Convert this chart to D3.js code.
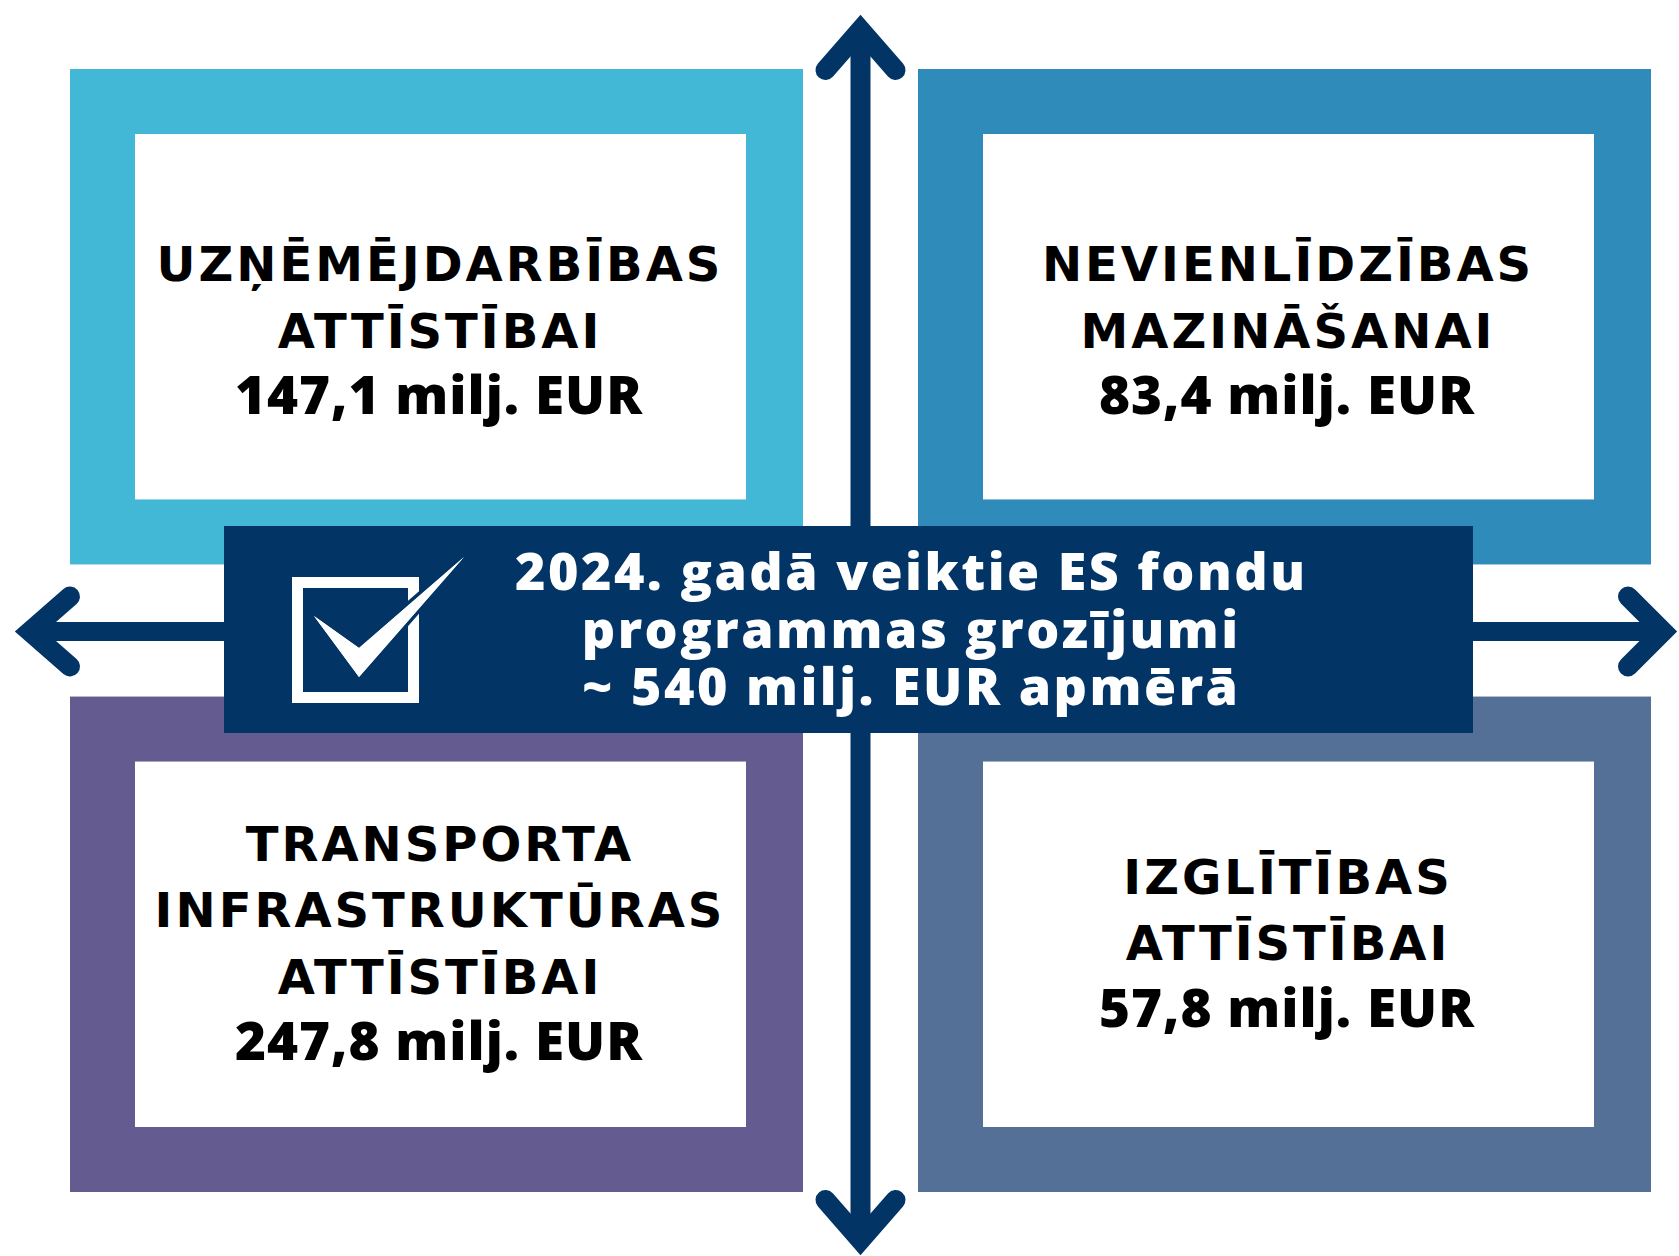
<!DOCTYPE html>
<html>
<head>
<meta charset="utf-8">
<script src="https://cdnjs.cloudflare.com/ajax/libs/d3/7.8.5/d3.min.js"></script>
<style>
    html, body { margin: 0; padding: 0; background: #fff; }
    svg { display: block; }
</style>
</head>
<body>
<script>
const WIDTH = 1679, HEIGHT = 1256;

// chart data
const areaTitles = [
    ["UZŅĒMĒJDARBĪBAS", "ATTĪSTĪBAI"],
    ["NEVIENLĪDZĪBAS", "MAZINĀŠANAI"],
    ["TRANSPORTA", "INFRASTRUKTŪRAS", "ATTĪSTĪBAI"],
    ["IZGLĪTĪBAS", "ATTĪSTĪBAI"]
];
const areaValues = [147.1, 83.4, 247.8, 57.8];
const valueUnit = "milj. EUR";
const bannerLines = ["2024. gadā veiktie ES fondu", "programmas grozījumi", "~ 540 milj. EUR apmērā"];

const areaColors = ["#42b7d6", "#2e8bba", "#645b91", "#547097"];
const NAVY = "#033466";

const lvFormat = d3.formatLocale({decimal: ",", thousands: " ", grouping: [3], currency: ["", ""]}).format(".1f");

var svg = d3.select("body").append("svg")
    .attr("width", WIDTH)
    .attr("height", HEIGHT);

var x = d3.scaleBand().domain([0, 1]).range([70, 1651]).paddingInner(115 / 848);
var y = d3.scaleBand().domain([0, 1]).range([69, 1192]).paddingInner(132 / 627);
const INSET = 65, INSET_RIGHT = 57;
const LINE_H = 66.5;
const rowShift = [31, 16];

var cx = (x(0) + x.bandwidth() + x(1)) / 2;
var cy = (y(0) + y.bandwidth() + y(1)) / 2 + 1;

var areas = areaTitles.map(function(t, i) {
    return {title: t, value: areaValues[i], color: areaColors[i], col: i % 2, row: Math.floor(i / 2)};
});

var quad = svg.selectAll(".area")
    .data(areas)
    .enter().append("g")
        .attr("class", "area")
        .attr("transform", function(d) { return "translate(" + x(d.col) + "," + y(d.row) + ")"; });

quad.append("rect")
    .attr("width", x.bandwidth())
    .attr("height", y.bandwidth())
    .attr("fill", function(d) { return d.color; });

quad.append("rect")
    .attr("x", INSET).attr("y", INSET)
    .attr("width", x.bandwidth() - INSET - INSET_RIGHT)
    .attr("height", y.bandwidth() - 2 * INSET)
    .attr("fill", "#fff");

var TITLE_LS = 3, VALUE_LS = 1;
quad.each(function(d) {
    var g = d3.select(this);
    var lines = d.title.map(function(t) { return {text: t, kind: "title"}; });
    lines.push({text: lvFormat(d.value) + " " + valueUnit, kind: "value"});
    var mid = y.bandwidth() / 2 + rowShift[d.row];
    var first = mid - (lines.length - 1) * LINE_H / 2;
    g.selectAll("text")
        .data(lines)
        .enter().append("text")
            .attr("x", (x.bandwidth() + INSET - INSET_RIGHT) / 2 - 2)
            .attr("dx", function(l) { return (l.kind == "title" ? TITLE_LS : VALUE_LS) / 2; })
            .attr("y", function(l, i) { return first + i * LINE_H; })
            .attr("text-anchor", "middle")
            .attr("fill", "#000")
            .style("font-family", function(l) { return l.kind == "title" ? "'DejaVu Sans', sans-serif" : "'Open Sans', sans-serif"; })
            .style("font-weight", function(l) { return l.kind == "title" ? 700 : 800; })
            .style("font-size", function(l) { return l.kind == "title" ? "48px" : "53px"; })
            .style("letter-spacing", function(l) { return (l.kind == "title" ? TITLE_LS : VALUE_LS) + "px"; })
            .text(function(l) { return l.text; });
});

// arrows
const HEAD_L = 40, HEAD_W = 35, ARROW_W = 20;
var arrows = svg.append("g")
    .attr("stroke", NAVY)
    .attr("fill", "none")
    .attr("stroke-width", ARROW_W);

var yTop = 30, yBottom = 1240, xLeft = 30, xRight = 1663;
arrows.append("line").attr("x1", cx).attr("y1", yTop).attr("x2", cx).attr("y2", yBottom);
arrows.append("line").attr("x1", xLeft).attr("y1", cy).attr("x2", xRight).attr("y2", cy).attr("stroke-width", ARROW_W - 1);

var heads = [
    [[cx - HEAD_W, yTop + HEAD_L], [cx, yTop], [cx + HEAD_W, yTop + HEAD_L]],
    [[cx - HEAD_W, yBottom - HEAD_L], [cx, yBottom], [cx + HEAD_W, yBottom - HEAD_L]],
    [[xLeft + HEAD_L, cy - HEAD_W], [xLeft, cy], [xLeft + HEAD_L, cy + HEAD_W]],
    [[xRight - HEAD_L + 5, cy - HEAD_W], [xRight, cy], [xRight - HEAD_L + 5, cy + HEAD_W]]
];
arrows.selectAll("path")
    .data(heads)
    .enter().append("path")
        .attr("d", d3.line())
        .attr("stroke-linecap", "round")
        .attr("stroke-linejoin", "miter");

// banner
const BANNER = {x: 224, y: 526, w: 1249, h: 207};
var banner = svg.append("g");
banner.append("rect")
    .attr("x", BANNER.x).attr("y", BANNER.y)
    .attr("width", BANNER.w).attr("height", BANNER.h)
    .attr("fill", NAVY);

// check box icon
banner.append("rect")
    .attr("x", 297.5).attr("y", 582.5)
    .attr("width", 116).attr("height", 115)
    .attr("fill", "none")
    .attr("stroke", "#fff")
    .attr("stroke-width", 11);
banner.append("path")
    .attr("d", "M314,616 L359,648 L464,557 L359,677 Z")
    .attr("fill", "#fff")
    .attr("stroke", NAVY)
    .attr("stroke-width", 7)
    .attr("paint-order", "stroke");
banner.append("path")
    .attr("d", "M314,616 L359,648 L464,557 L359,677 Z")
    .attr("fill", "#fff");

var BANNER_LS = 2.5;
banner.selectAll(".banner-line")
    .data(bannerLines)
    .enter().append("text")
        .attr("class", "banner-line")
        .attr("x", 910)
        .attr("dx", BANNER_LS / 2)
        .attr("y", function(d, i) { return 590 + i * 57.5; })
        .attr("text-anchor", "middle")
        .attr("fill", "#fff")
        .style("font-family", "'Open Sans', sans-serif")
        .style("font-weight", 800)
        .style("font-size", "52px")
        .style("letter-spacing", BANNER_LS + "px")
        .text(function(d) { return d; });
</script>
</body>
</html>
